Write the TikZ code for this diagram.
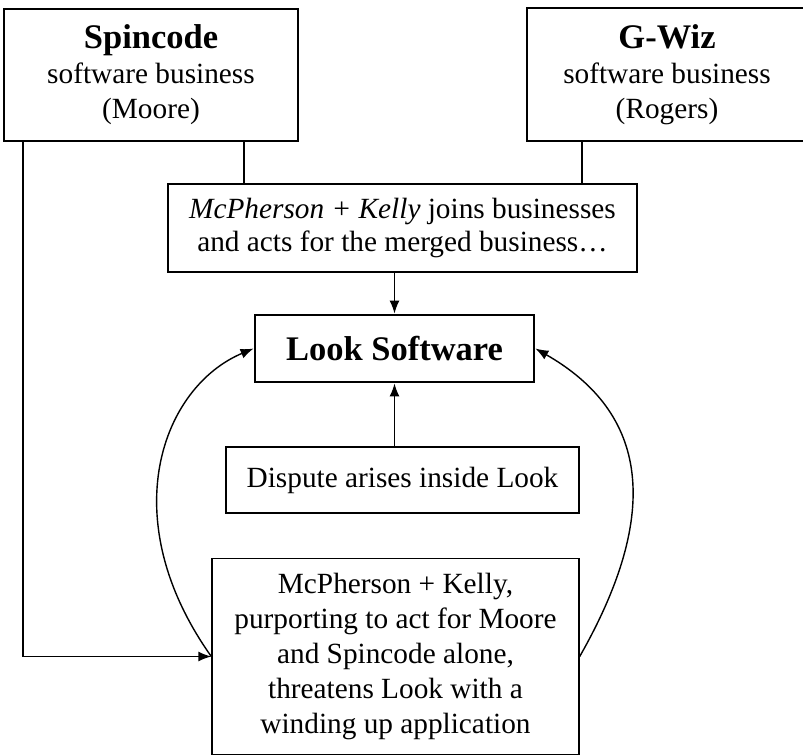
\documentclass[tikz,border=0pt]{standalone}
\usepackage{fontspec}
\setmainfont{Liberation Serif}
\usetikzlibrary{arrows.meta}

\begin{document}
\begin{tikzpicture}[x=1pt, y=1pt, >={Latex[length=13pt,width=10pt]},
	box/.style={draw, line width=1.4pt, inner sep=0pt, align=center, font=\fontsize{29.3}{35}\selectfont},
	heavybox/.style={box, line width=2.8pt},
	link/.style={line width=1.4pt}]
	\useasboundingbox (0, 0) rectangle (803, 755);
	%%
	\node[heavybox, minimum width=294pt, minimum height=132pt] (spin) at (151, 680) {{\fontsize{34.5}{36}\selectfont\bfseries Spincode}\\software business\\(Moore)};
	\node[heavybox, minimum width=280pt, minimum height=133pt] (gwiz) at (667, 680.5) {{\fontsize{34.5}{36}\selectfont\bfseries G-Wiz}\\software business\\(Rogers)};
	%%
	\node[box, minimum width=469pt, minimum height=88pt, font=\fontsize{29.3}{33}\selectfont] (mcph) at (402.5, 527) {\textit{McPherson + Kelly} joins businesses\\and acts for the merged business…};
	\node[heavybox, minimum width=279pt, minimum height=67pt] (look) at (394.5, 406.5) {\fontsize{34.5}{36}\selectfont\bfseries Look Software};
	\node[box, minimum width=353pt, minimum height=66pt] (disp) at (402.5, 275) {Dispute arises inside Look};
	\node[box, minimum width=367pt, minimum height=196pt] (threat) at (395.5, 98.5) {McPherson + Kelly,\\purporting to act for Moore\\and Spincode alone,\\threatens Look with a\\winding up application};
	%%
	\draw[link] (spin.south -| 244, 0) -- (mcph.north -| 244, 0);
	\draw[link] (gwiz.south -| 582, 0) -- (mcph.north -| 582, 0);
	\draw[link, ->] (look.north |- mcph.south) -- (look.north);
	\draw[link, ->] (look.south |- disp.north) -- (look.south);
	%%
	\draw[link, ->] (spin.south -| 23, 0) |- (threat.west);
	\draw[link, ->] (threat.west) .. controls (113, 237) and (162, 368) .. (look.west);
	\draw[link, ->] (threat.east) .. controls (662, 243) and (648, 342) .. (look.east);
\end{tikzpicture}
\end{document}
